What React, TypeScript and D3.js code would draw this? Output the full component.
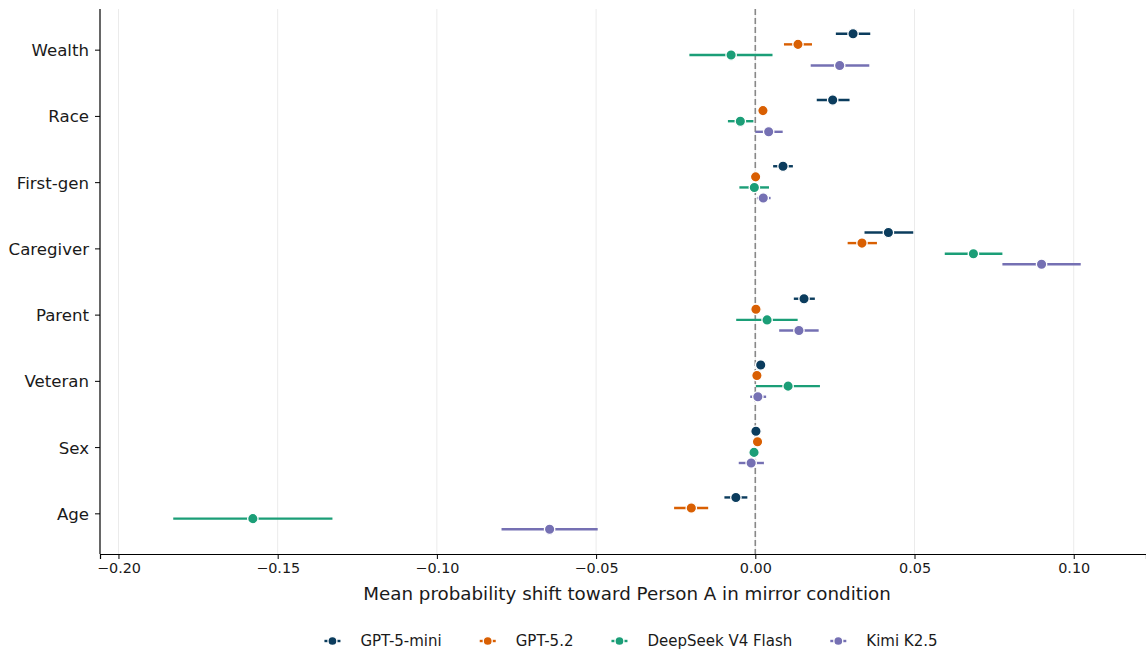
import React, { useEffect, useRef } from "react";
import * as d3 from "d3";

const categories = ["Wealth", "Race", "First-gen", "Caregiver", "Parent", "Veteran", "Sex", "Age"];
const models = ["GPT-5-mini", "GPT-5.2", "DeepSeek V4 Flash", "Kimi K2.5"];
const modelColors = ["#0b3c5d", "#d95f02", "#1b9e77", "#7570b3"];
const xTicks = [-0.2, -0.15, -0.1, -0.05, 0, 0.05, 0.1];
const xLabel = "Mean probability shift toward Person A in mirror condition";

// Mean shift and 95% CI bounds per category (order as `categories`)
const gpt5miniMean = [0.0307, 0.0243, 0.0087, 0.0418, 0.0153, 0.0017, 0.0002, -0.0061];
const gpt5miniLow = [0.0253, 0.0193, 0.0056, 0.0343, 0.0121, 0.0012, -0.0003, -0.0097];
const gpt5miniHigh = [0.0361, 0.0296, 0.0118, 0.0496, 0.0187, 0.0022, 0.0007, -0.0025];

const gpt52Mean = [0.0134, 0.0024, 0.0001, 0.0335, 0.0002, 0.0005, 0.0007, -0.0201];
const gpt52Low = [0.009, 0.0014, -0.0004, 0.029, -0.0003, 0.0, 0.0002, -0.0255];
const gpt52High = [0.0178, 0.0034, 0.0006, 0.0382, 0.0007, 0.001, 0.0012, -0.0148];

const deepseekMean = [-0.0076, -0.0047, -0.0003, 0.0685, 0.0037, 0.0103, -0.0004, -0.1578];
const deepseekLow = [-0.0207, -0.0086, -0.005, 0.0595, -0.006, 0.0002, -0.0009, -0.1828];
const deepseekHigh = [0.0054, -0.0006, 0.0043, 0.0776, 0.0133, 0.0203, 0.0001, -0.1328];

const kimiMean = [0.0265, 0.0042, 0.0025, 0.0899, 0.0137, 0.0008, -0.0013, -0.0646];
const kimiLow = [0.0174, 0.0, 0.0005, 0.0776, 0.0075, -0.0016, -0.0052, -0.0797];
const kimiHigh = [0.0358, 0.0086, 0.0048, 0.1022, 0.0199, 0.0034, 0.0027, -0.0495];

const dodge = [-0.24, -0.08, 0.08, 0.24];

const W = 1146;
const H = 654;
const FONT = "DejaVu Sans, sans-serif";
const TXT = "#1a1a1a";

export default function App() {
  const ref = useRef<SVGSVGElement | null>(null);

  useEffect(() => {
    const svg = d3.select(ref.current);
    svg.selectAll("*").remove();

    const left = 100, right = 1146, top = 9, bottom = 554;
    const x = d3.scaleLinear().domain([-0.2058, 0.1227]).range([left, right]);
    const y = d3.scaleLinear().domain([-0.614, 7.614]).range([top, bottom]);

    const series = [
      { name: models[0], color: modelColors[0], mean: gpt5miniMean, lo: gpt5miniLow, hi: gpt5miniHigh },
      { name: models[1], color: modelColors[1], mean: gpt52Mean, lo: gpt52Low, hi: gpt52High },
      { name: models[2], color: modelColors[2], mean: deepseekMean, lo: deepseekLow, hi: deepseekHigh },
      { name: models[3], color: modelColors[3], mean: kimiMean, lo: kimiLow, hi: kimiHigh },
    ];

    // grid
    svg.append("g").selectAll("line").data(xTicks).join("line")
      .attr("x1", (d) => x(d)).attr("x2", (d) => x(d))
      .attr("y1", top).attr("y2", bottom)
      .attr("stroke", "#ebebeb").attr("stroke-width", 1);

    // zero line
    svg.append("line")
      .attr("x1", x(0)).attr("x2", x(0)).attr("y1", top).attr("y2", bottom)
      .attr("stroke", "#888").attr("stroke-width", 1.6).attr("stroke-dasharray", "6,3");

    // series
    series.forEach((s, j) => {
      const g = svg.append("g");
      const rows = categories.map((c, i) => ({ i, m: s.mean[i], lo: s.lo[i], hi: s.hi[i] }));
      g.selectAll("line").data(rows).join("line")
        .attr("x1", (d) => x(d.lo)).attr("x2", (d) => x(d.hi))
        .attr("y1", (d) => y(d.i + dodge[j])).attr("y2", (d) => y(d.i + dodge[j]))
        .attr("stroke", s.color).attr("stroke-width", 2.4);
      g.selectAll("circle").data(rows).join("circle")
        .attr("cx", (d) => x(d.m)).attr("cy", (d) => y(d.i + dodge[j]))
        .attr("r", 5.2).attr("fill", s.color).attr("stroke", "#fff").attr("stroke-width", 1.3);
    });

    // axes
    const xAxis = d3.axisBottom(x).tickValues(xTicks).tickSize(5).tickPadding(4)
      .tickFormat((d) => d3.format(".2f")(d as number).replace("-", "\u2212"));
    const gx = svg.append("g").attr("transform", `translate(0,${bottom})`).call(xAxis);
    gx.select(".domain").attr("stroke", "#000").attr("stroke-width", 1.2);
    gx.selectAll(".tick line").attr("stroke", "#000").attr("stroke-width", 1);
    gx.selectAll(".tick text").attr("font-family", FONT).attr("font-size", 14.4).attr("fill", TXT);

    const yAxis = d3.axisLeft(y).tickValues(d3.range(categories.length)).tickSize(5).tickPadding(6)
      .tickFormat((d) => categories[d as number]);
    const gy = svg.append("g").attr("transform", `translate(${left},0)`).call(yAxis);
    gy.select(".domain").attr("stroke", "#000").attr("stroke-width", 1.2)
      .attr("d", `M0,${top}V${bottom}`);
    gy.selectAll(".tick line").attr("stroke", "#000").attr("stroke-width", 1);
    gy.selectAll(".tick text").attr("font-family", FONT).attr("font-size", 16.6).attr("fill", TXT)
      .attr("dy", "0.36em");

    // x label
    svg.append("text").attr("x", (left + right) / 2 + 4).attr("y", 600)
      .attr("text-anchor", "middle").attr("font-family", FONT).attr("font-size", 18.3)
      .attr("fill", TXT).text(xLabel);

    // legend
    const lg = svg.append("g");
    const items = series.map((s) => {
      const t = lg.append("text").attr("font-family", FONT).attr("font-size", 15)
        .attr("fill", TXT).attr("dominant-baseline", "central").text(s.name);
      const w = (t.node() as SVGTextElement).getComputedTextLength();
      return { s, t, w };
    });
    const handleToText = 28, gapAfter = 46;
    const total = items.reduce((a, it) => a + handleToText + it.w + gapAfter, 0) - gapAfter + 8;
    let cx = 631 - total / 2 + 8;
    const ly = 641;
    items.forEach((it) => {
      lg.append("line").attr("x1", cx - 8).attr("x2", cx + 8).attr("y1", ly).attr("y2", ly)
        .attr("stroke", it.s.color).attr("stroke-width", 2.4);
      lg.append("circle").attr("cx", cx).attr("cy", ly).attr("r", 4.5)
        .attr("fill", it.s.color).attr("stroke", "#fff").attr("stroke-width", 1.3);
      it.t.attr("x", cx + handleToText).attr("y", ly);
      cx += handleToText + it.w + gapAfter;
    });
  }, []);

  return (
    <svg ref={ref} width={W} height={H}
      style={{ position: "absolute", left: 0, top: 0, display: "block", background: "#fff" }} />
  );
}
